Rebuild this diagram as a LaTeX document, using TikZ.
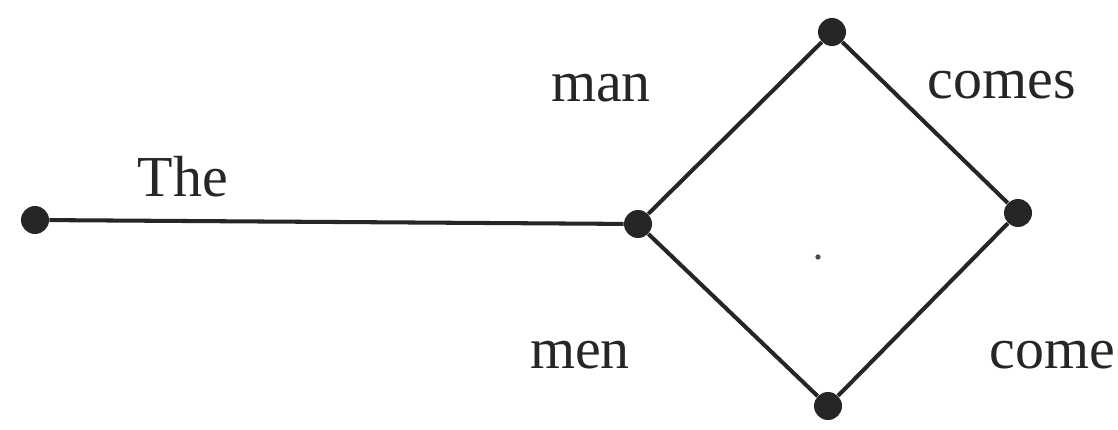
\documentclass[tikz,border=0pt]{standalone}
\usepackage{fontspec}
\setmainfont{Liberation Serif}
\begin{document}
\begin{tikzpicture}[x=0.02cm,y=-0.02cm,
  dot/.style={circle,fill=black!85,inner sep=0pt,minimum size=0.56cm},
  edge/.style={line width=2.3pt,black!85},
  word/.style={font=\fontsize{33}{36}\selectfont,text=black!85,inner sep=0pt}]
\useasboundingbox (0,0) rectangle (1118,429);
\clip (0,0) rectangle (1118,429);
\fill[white] (0,0) rectangle (1118,429);
\node[dot] (a) at (35,220) {};
\node[dot] (b) at (638,224) {};
\node[dot] (c) at (832,32) {};
\node[dot] (d) at (1018,213) {};
\node[dot] (e) at (828,406) {};
\draw[edge] (a) -- (b);
\draw[edge] (b) -- (c);
\draw[edge] (c) -- (d);
\draw[edge] (b) -- (e);
\draw[edge] (e) -- (d);
\node[circle,fill=black!70,inner sep=0pt,minimum size=3pt] (p) at (818,257) {};
\node[word,anchor=base] (t1) at (183,196) {The};
\node[word,anchor=base] (t2) at (601,101) {man};
\node[word,anchor=base] (t3) at (1002,98) {comes};
\node[word,anchor=base] (t4) at (580,368) {men};
\node[word,anchor=base west] (t5) at (989,368) {come};
\end{tikzpicture}
\end{document}
